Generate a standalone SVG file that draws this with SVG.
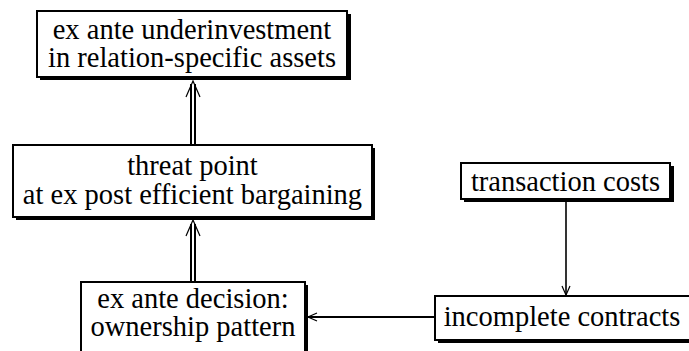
<svg xmlns="http://www.w3.org/2000/svg" width="689" height="351" viewBox="0 0 689 351">
<style>
.sh{fill:#000}
.bx{fill:#fff;stroke:#000;stroke-width:2}
.ln{stroke:#000;fill:none}
.hd{stroke:#000;fill:none;stroke-width:1.2}
</style>
<rect width="689" height="351" fill="#fff"/>
<g id="connectors">
<line class="ln" x1="191" y1="145" x2="191" y2="84" stroke-width="2"/>
<line class="ln" x1="195" y1="145" x2="195" y2="84" stroke-width="2"/>
<path class="hd" d="M186,97 L193,81 L200,97"/>
<line class="ln" x1="191" y1="282" x2="191" y2="224" stroke-width="2"/>
<line class="ln" x1="195" y1="282" x2="195" y2="224" stroke-width="2"/>
<path class="hd" d="M186,236 L193,220 L200,236"/>
<line class="ln" x1="566" y1="201" x2="566" y2="295" stroke-width="1.6"/>
<path class="hd" d="M562,286 L566,295 L570,286"/>
<line class="ln" x1="435" y1="317" x2="308" y2="317" stroke-width="2.2"/>
<path class="hd" d="M317,313 L308,317 L317,321"/>
</g>
<g id="n1">
<rect class="sh" x="40" y="14" width="311" height="66"/>
<rect class="bx" x="37" y="11" width="310" height="66"/>
<text x="192" y="39" font-family="Liberation Serif" font-size="28.5" text-anchor="middle">ex ante underinvestment</text>
<text x="192" y="67" font-family="Liberation Serif" font-size="28.5" text-anchor="middle">in relation-specific assets</text>
</g>
<g id="n2">
<rect class="sh" x="16" y="148" width="359" height="72"/>
<rect class="bx" x="13" y="145" width="359" height="72"/>
<text x="192.5" y="175" font-family="Liberation Serif" font-size="28.5" text-anchor="middle">threat point</text>
<text x="192.5" y="204" font-family="Liberation Serif" font-size="28.5" text-anchor="middle">at ex post efficient bargaining</text>
</g>
<g id="n3">
<rect class="sh" x="84" y="285" width="224" height="80"/>
<rect class="bx" x="81" y="282" width="224" height="80"/>
<text x="193" y="308" font-family="Liberation Serif" font-size="28.5" text-anchor="middle">ex ante decision:</text>
<text x="193" y="336" font-family="Liberation Serif" font-size="28.5" text-anchor="middle">ownership pattern</text>
</g>
<g id="n4">
<rect class="sh" x="464" y="166" width="210" height="36"/>
<rect class="bx" x="461" y="163" width="209" height="36"/>
<text x="565.5" y="191" font-family="Liberation Serif" font-size="28.5" text-anchor="middle">transaction costs</text>
</g>
<g id="n5">
<rect class="sh" x="438" y="299" width="260" height="44"/>
<rect class="bx" x="435" y="296" width="260" height="44"/>
<text x="562" y="326" font-family="Liberation Serif" font-size="28.5" text-anchor="middle">incomplete contracts</text>
</g>
</svg>
